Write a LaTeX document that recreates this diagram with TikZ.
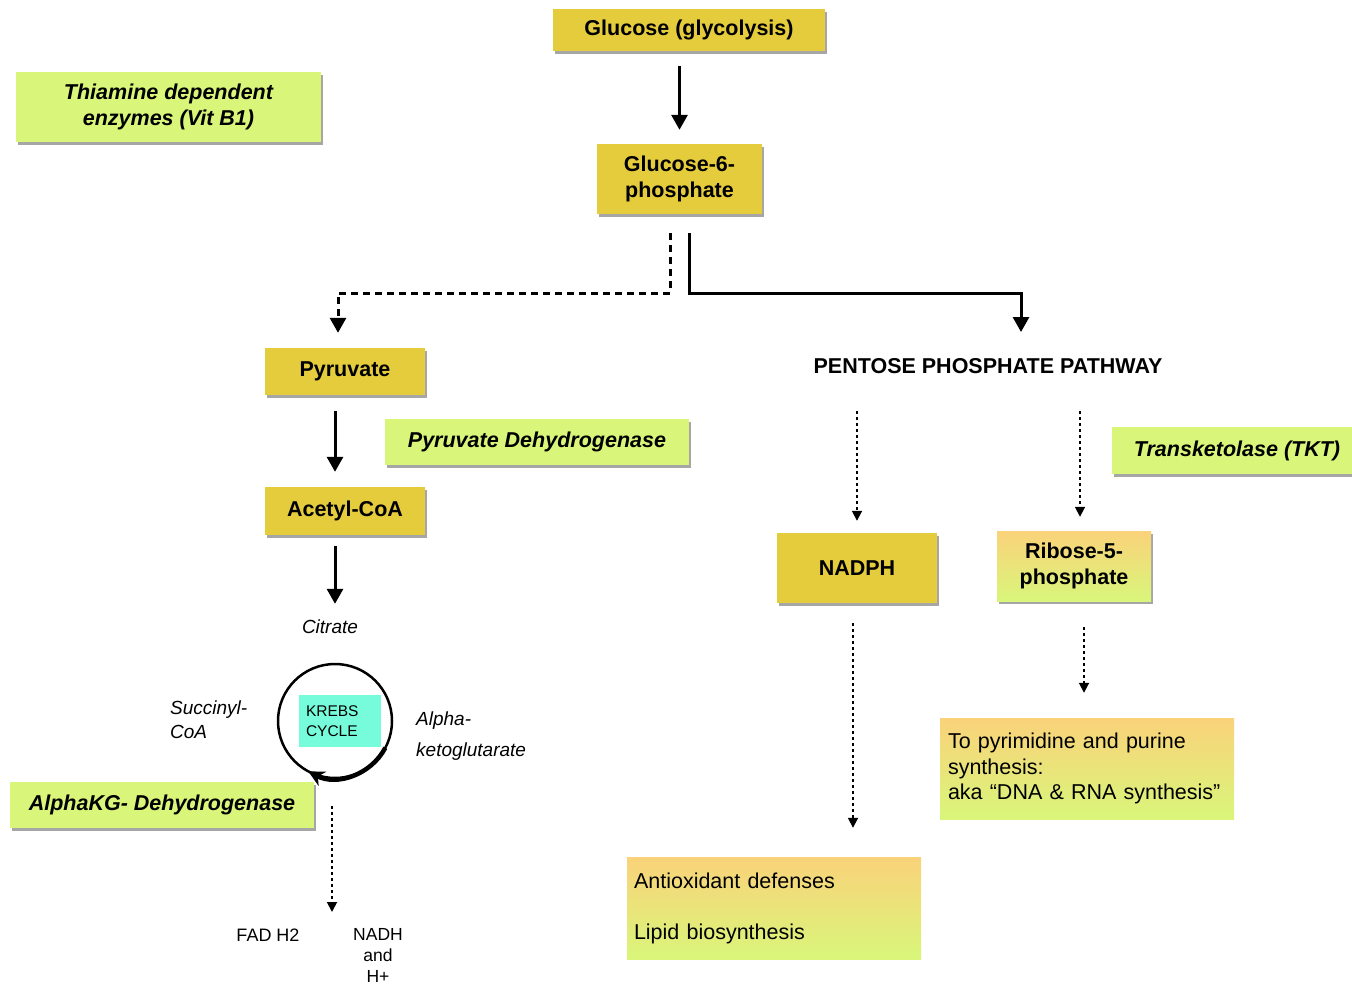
\documentclass[tikz,border=0pt]{standalone}
\usepackage{fontspec}
\setmainfont{Liberation Sans}
\usetikzlibrary{arrows.meta,shadows}
\definecolor{yel}{RGB}{228,204,60}
\definecolor{lgreen}{RGB}{217,246,122}
\definecolor{gorange}{RGB}{250,210,122}
\definecolor{aqua}{RGB}{118,252,218}
\tikzset{
  shd/.style={drop shadow={shadow xshift=2pt,shadow yshift=-3pt,opacity=0.35,fill=black}},
  ybox/.style={shd,fill=yel,inner sep=0pt,align=center,font=\bfseries\fontsize{21.5}{26}\selectfont},
  gbox/.style={shd,fill=lgreen,inner sep=0pt,align=center,font=\bfseries\itshape\fontsize{21.5}{26}\selectfont},
  grbox/.style={top color=gorange,bottom color=lgreen,inner sep=0pt},
  lbl/.style={inner sep=0pt,font=\itshape\fontsize{19}{24}\selectfont},
  sm/.style={inner sep=0pt,font=\fontsize{18}{21.5}\selectfont},
  arr/.style={line width=3pt,-{Triangle[width=16pt,length=15pt]}},
  dsh/.style={line width=3pt,dash pattern=on 7pt off 5pt,-{Triangle[width=16pt,length=15pt]}},
  dot/.style={line width=1.8pt,dash pattern=on 3pt off 3pt,-{Triangle[width=10pt,length=10pt]}},
}
\begin{document}
\begin{tikzpicture}[x=1pt,y=-1pt]
\useasboundingbox (0,0) rectangle (1352,985);
% boxes
\node[ybox,minimum width=272,minimum height=42] (glu) at (689,30) {Glucose (glycolysis)};
\node[ybox,minimum width=165,minimum height=70] (g6p) at (679.5,179) {Glucose-6-\\phosphate};
\node[gbox,minimum width=305,minimum height=70] (thi) at (168.5,107) {Thiamine dependent\\enzymes (Vit B1)};
\node[ybox,minimum width=160,minimum height=47] (pyr) at (345,371.5) {Pyruvate};
\node[gbox,minimum width=304,minimum height=46] (pdh) at (537,442) {Pyruvate Dehydrogenase};
\node[ybox,minimum width=160,minimum height=48] (acc) at (345,511) {Acetyl-CoA};
\node[gbox,minimum width=250,minimum height=47] (tkt) at (1237,450.5) {Transketolase (TKT)};
\node[ybox,minimum width=160,minimum height=70] (nadph) at (857,568) {NADPH};
\node[gbox,grbox,minimum width=154,minimum height=70,align=center,font=\bfseries\fontsize{21.5}{26}\selectfont] (rib) at (1074,566) {Ribose-5-\\phosphate};
\node[gbox,minimum width=304,minimum height=46] (akg) at (162,805) {AlphaKG- Dehydrogenase};
\node[grbox,minimum width=294,minimum height=101,text width=278,align=left,font=\fontsize{21.5}{25.5}\selectfont] (pyrim) at (1087,768.5) {To pyrimidine and purine\\synthesis:\\aka “DNA \& RNA synthesis”};
\node[grbox,minimum width=294,minimum height=102,text width=280,align=left,font=\fontsize{21.5}{25.5}\selectfont] (antiox) at (774,908) {Antioxidant defenses\\[25.5pt]Lipid biosynthesis};
% krebs
\node[circle,draw,line width=2.5pt,minimum size=114,inner sep=0pt] (kc) at (335,721) {};
\node[fill=aqua,minimum width=82,minimum height=52,inner sep=0pt,text width=68,align=left,font=\fontsize{15.5}{20}\selectfont] (krebs) at (340,721) {KREBS\\CYCLE};
\draw[line width=4.5pt,-{Stealth[length=16pt,width=16pt]}] (kc.center) ++(28:57) arc[start angle=28,end angle=118,radius=57];
% labels
\node[inner sep=0pt,font=\bfseries\fontsize{21.5}{26}\selectfont] (ppp) at (988,366) {PENTOSE PHOSPHATE PATHWAY};
\node[lbl] (cit) at (330,627) {Citrate};
\node[lbl,anchor=west,align=left] (succ) at (170,720) {Succinyl-\\CoA};
\node[lbl,anchor=west,align=left,font=\itshape\fontsize{19}{31}\selectfont] (alpha) at (416,736.5) {Alpha-\\ketoglutarate};
\node[sm] (fad) at (268,935) {FAD H2};
\node[sm,align=center,font=\fontsize{17.5}{21}\selectfont] (nadh) at (378,955.5) {NADH\\and\\H+};
% coordinates
\coordinate (split) at (679.5,293);
\coordinate (pppin) at (1021,332);
\coordinate (pppout) at (0,411);
\coordinate (krebsout) at (332,912);
% connectors
\draw[arr,shorten <=15pt,shorten >=14pt] (glu.south -| g6p.north) -- (g6p.north);
\draw[dsh,shorten <=19pt,shorten >=15pt] ([xshift=-9.5pt]g6p.south) -- ([xshift=-9.5pt]split) -| ([xshift=-7pt]pyr.north);
\draw[arr,shorten <=19pt] ([xshift=9.5pt]g6p.south) -- ([xshift=9.5pt]split) -| (pppin);
\draw[arr,shorten <=16pt,shorten >=15pt] ([xshift=-10pt]pyr.south) -- ([xshift=-10pt]acc.north);
\draw[arr,shorten <=11pt,shorten >=16pt] ([xshift=-10pt]acc.south) -- ([xshift=-10pt]acc.south |- cit.north);
\draw[dot,shorten >=12pt] (nadph.north |- pppout) -- (nadph.north);
\draw[dot,shorten >=14pt] ([xshift=6pt]rib.north |- pppout) -- ([xshift=6pt]rib.north);
\draw[dot,shorten <=20pt,shorten >=29pt] ([xshift=-4pt]nadph.south) -- ([xshift=-4pt]nadph.south |- antiox.north);
\draw[dot,shorten <=26pt,shorten >=25pt] ([xshift=10pt]rib.south) -- ([xshift=10pt]rib.south |- pyrim.north);
\draw[dot,shorten <=27pt] ([xshift=-3pt]kc.south) -- (krebsout);
\end{tikzpicture}
\end{document}
